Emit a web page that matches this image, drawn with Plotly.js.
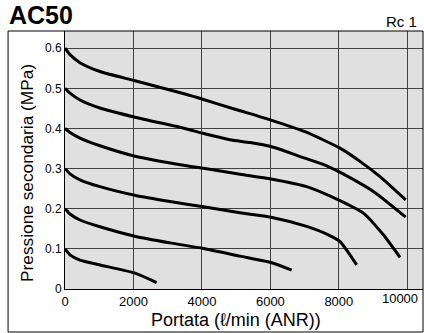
<!DOCTYPE html>
<html>
<head>
<meta charset="utf-8">
<script src="https://cdn.plot.ly/plotly-3.0.1.min.js"></script>
<style>html,body{margin:0;padding:0;background:#fff;}#chart{width:424px;height:333px;}</style>
</head>
<body>
<div id="chart"></div>
<script>
// Flow (l/min ANR) and secondary pressure (MPa) for each set pressure curve
const c06x = [0, 146, 438, 1022, 2045, 3506, 4022, 4967, 6018, 7011, 8034, 8618, 9203, 9953];
const c06y = [0.6, 0.584, 0.564, 0.542, 0.519, 0.486, 0.473, 0.448, 0.421, 0.392, 0.351, 0.318, 0.28, 0.222];
const c05x = [0, 146, 438, 1022, 2045, 3506, 4022, 4820, 5405, 6018, 7011, 7596, 7985, 9008, 9953];
const c05y = [0.5, 0.488, 0.471, 0.451, 0.428, 0.40, 0.388, 0.372, 0.365, 0.355, 0.326, 0.309, 0.293, 0.243, 0.179];
const c04x = [0, 146, 438, 1022, 2045, 3506, 4044, 5112, 6018, 7060, 7985, 8716, 9300, 9787];
const c04y = [0.4, 0.39, 0.376, 0.357, 0.331, 0.308, 0.301, 0.286, 0.274, 0.255, 0.222, 0.189, 0.135, 0.079];
const c03x = [0, 146, 438, 1022, 2065, 3068, 4044, 5112, 6018, 7060, 7693, 8034, 8521];
const c03y = [0.3, 0.287, 0.272, 0.255, 0.233, 0.218, 0.205, 0.19, 0.179, 0.156, 0.135, 0.118, 0.06];
const c02x = [0, 146, 438, 1022, 2065, 3068, 4044, 5112, 6018, 6622];
const c02y = [0.2, 0.187, 0.172, 0.155, 0.131, 0.115, 0.101, 0.082, 0.066, 0.047];
const c01x = [0, 146, 438, 1022, 2065, 2679];
const c01y = [0.1, 0.085, 0.072, 0.06, 0.039, 0.016];

const xTicks = [0, 2000, 4000, 6000, 8000, 10000];
const xTickText = ['0', '2000', '4000', '6000', '8000', ''];
const xEndTick = [10000];
const xEndTickText = ['10000'];
const yTicks = [0, 0.1, 0.2, 0.3, 0.4, 0.5, 0.6];
const yTickText = ['0', '0.1', '0.2', '0.3', '0.4', '0.5', '0.6'];

const curves = [[c06x, c06y], [c05x, c05y], [c04x, c04y], [c03x, c03y], [c02x, c02y], [c01x, c01y]];
const traces = curves.map(c => ({
  x: c[0], y: c[1], type: 'scatter', mode: 'lines',
  line: {color: '#000', width: 3, shape: 'spline', smoothing: 0.6},
  hoverinfo: 'skip', showlegend: false
}));

const font = 'Liberation Sans, Arial, Helvetica, sans-serif';
const xMax = 10459;
const endShift = 213; // last label sits a little left of its grid line, as in the reference
const layout = {
  width: 424, height: 333,
  margin: {l: 65, r: 1, t: 31, b: 44},
  paper_bgcolor: '#fff', plot_bgcolor: '#e0e0e0',
  font: {family: font, color: '#000', size: 12},
  showlegend: false,
  xaxis: {
    range: [0, xMax], tickvals: xTicks, ticktext: xTickText,
    showgrid: true, gridcolor: '#404040', gridwidth: 1, zeroline: false,
    showline: true, linecolor: '#000', linewidth: 1, ticks: '',
    tickfont: {size: 13, family: font}
  },
  xaxis2: {
    overlaying: 'x', anchor: 'y', side: 'bottom',
    range: [endShift, xMax + endShift], tickvals: xEndTick, ticktext: xEndTickText,
    showgrid: false, zeroline: false, showline: false, ticks: '',
    tickfont: {size: 13, family: font}
  },
  yaxis: {
    range: [0, 0.643], tickvals: yTicks, ticktext: yTickText,
    showgrid: true, gridcolor: '#404040', gridwidth: 1, zeroline: false,
    showline: true, linecolor: '#000', linewidth: 1, ticks: '',
    tickfont: {size: 12, family: font}
  },
  shapes: [{
    type: 'rect', xref: 'paper', yref: 'paper',
    x0: -0.159, x1: 1.0, y0: -0.1667, y1: 1.0,
    line: {color: '#000', width: 1}, fillcolor: 'rgba(0,0,0,0)', layer: 'above'
  }],
  annotations: [
    {text: '<b>AC50</b>', xref: 'paper', yref: 'paper', x: -0.162, y: 1.0, xanchor: 'left', yanchor: 'bottom',
     showarrow: false, font: {size: 25, family: font, color: '#000'}},
    {text: 'Rc 1', xref: 'paper', yref: 'paper', x: 0.99, y: 0.995, xanchor: 'right', yanchor: 'bottom',
     showarrow: false, font: {size: 15, family: font, color: '#000'}},
    {text: 'Portata (ℓ/min (ANR))', xref: 'paper', yref: 'paper', x: 0.478, y: -0.119,
     xanchor: 'center', yanchor: 'middle', showarrow: false, borderpad: 0,
     font: {size: 18, family: font, color: '#000'}},
    {text: 'Pressione secondaria (MPa)', xref: 'paper', yref: 'paper', x: -0.106, y: 0.45, textangle: -90,
     xanchor: 'center', yanchor: 'middle', showarrow: false, font: {size: 17.3, family: font, color: '#000'}}
  ]
};

// empty trace binding xaxis2 so its end label is drawn
traces.push({x: [], y: [], xaxis: 'x2', yaxis: 'y', type: 'scatter', mode: 'lines', showlegend: false, hoverinfo: 'skip'});

Plotly.newPlot('chart', traces, layout, {staticPlot: true, displayModeBar: false});
</script>
</body>
</html>
